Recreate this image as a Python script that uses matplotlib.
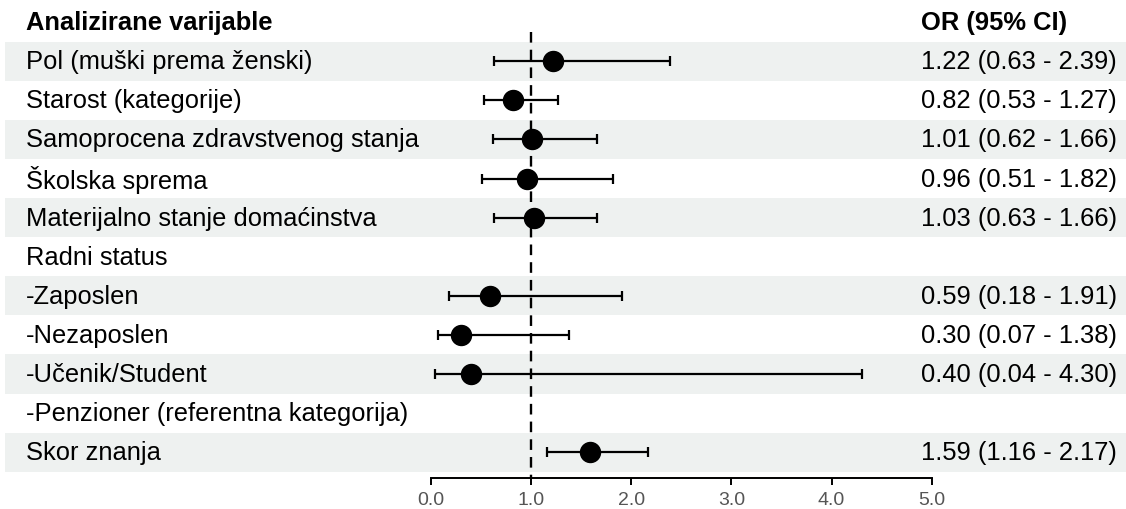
import matplotlib
matplotlib.use("Agg")
import matplotlib.pyplot as plt
import numpy as np

labels = ["Pol (muški prema ženski)", "Starost (kategorije)",
          "Samoprocena zdravstvenog stanja", "Školska sprema",
          "Materijalno stanje domaćinstva", "Radni status", "-Zaposlen",
          "-Nezaposlen", "-Učenik/Student",
          "-Penzioner (referentna kategorija)", "Skor znanja"]
odds = [1.22, 0.82, 1.01, 0.96, 1.03, None, 0.59, 0.30, 0.40, None, 1.59]
lower = [0.63, 0.53, 0.62, 0.51, 0.63, None, 0.18, 0.07, 0.04, None, 1.16]
upper = [2.39, 1.27, 1.66, 1.82, 1.66, None, 1.91, 1.38, 4.30, None, 2.17]
ci_text = ["1.22 (0.63 - 2.39)", "0.82 (0.53 - 1.27)", "1.01 (0.62 - 1.66)",
           "0.96 (0.51 - 1.82)", "1.03 (0.63 - 1.66)", "", "0.59 (0.18 - 1.91)",
           "0.30 (0.07 - 1.38)", "0.40 (0.04 - 4.30)", "", "1.59 (1.16 - 2.17)"]
xticks = [0, 1, 2, 3, 4, 5]
xticklabels = ["0.0", "1.0", "2.0", "3.0", "4.0", "5.0"]
header_left = "Analizirane varijable"
header_right = "OR (95% CI)"

plt.rcParams['font.family'] = ['Liberation Sans', 'DejaVu Sans']

W, H = 1126, 510
fig = plt.figure(figsize=(W / 100, H / 100), dpi=100)
ax = fig.add_axes([0, 0, 1, 1])

# pixel mapping
x0px, unit = 430.8, 100.2
def px2x(p):
    return (p - x0px) / unit
band_top, rowh = 42.7, 39.09
def py2y(p):
    return (p - band_top) / rowh + 0.5

ax.set_xlim(px2x(0), px2x(W))
ax.set_ylim(py2y(H), py2y(0))

n = len(labels)
rows = np.arange(1, n + 1)

# bands
for i, r in enumerate(rows):
    if i % 2 == 0:
        ax.axhspan(r - 0.5, r + 0.5, xmin=5 / W, xmax=1.0,
                   color="#eef1f0", lw=0, zorder=0)

axis_y = py2y(479.3)
# reference line
ax.plot([1, 1], [py2y(33), axis_y], color="black", lw=1.7,
        dashes=(4.5, 3), zorder=1)

# error bars
for r, o, lo, hi in zip(rows, odds, lower, upper):
    if o is None:
        continue
    ax.errorbar([o], [r], xerr=[[o - lo], [hi - o]], fmt="o", color="black",
                ms=14.4, elinewidth=1.6, capsize=3.6, capthick=1.6, zorder=3)

# texts
fs = 18.4
ax.text(px2x(26), 0, header_left, fontsize=fs, fontweight="bold",
        va="center", ha="left")
ax.text(px2x(921), 0, header_right, fontsize=fs, fontweight="bold",
        va="center", ha="left")
for r, lab, ct in zip(rows, labels, ci_text):
    ax.text(px2x(26), r, lab, fontsize=fs, va="center", ha="left")
    if ct:
        ax.text(px2x(921), r, ct, fontsize=fs, va="center", ha="left")

# axis
for s in ["top", "left", "right"]:
    ax.spines[s].set_visible(False)
ax.spines["bottom"].set_position(("data", axis_y))
ax.spines["bottom"].set_bounds(0, 5)
ax.spines["bottom"].set_linewidth(1.4)
ax.set_xticks(xticks)
ax.set_xticklabels(xticklabels, color="#555555", fontsize=14)
ax.tick_params(axis="x", direction="out", length=5, width=1.4, pad=4)
ax.set_yticks([])

fig.savefig("out.png", dpi=100)
